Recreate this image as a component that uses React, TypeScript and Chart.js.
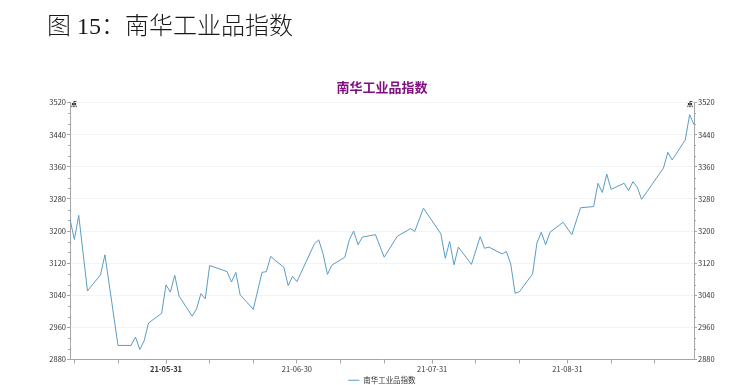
import React, { useEffect, useRef } from 'react';
import { Chart, registerables } from 'chart.js';

Chart.register(...registerables);

const PAGE_TITLE = '图 15：南华工业品指数';
const CHART_TITLE = '南华工业品指数';
const SERIES_NAME = '南华工业品指数';
const UNIT_MARK = '点';

const DATES = [
  '2021-05-09', '2021-05-10', '2021-05-11', '2021-05-13', '2021-05-16', '2021-05-17', '2021-05-20',
  '2021-05-23', '2021-05-24', '2021-05-25', '2021-05-26', '2021-05-27', '2021-05-30', '2021-05-31',
  '2021-06-01', '2021-06-02', '2021-06-03', '2021-06-06', '2021-06-07', '2021-06-08', '2021-06-09',
  '2021-06-10', '2021-06-14', '2021-06-15', '2021-06-16', '2021-06-17', '2021-06-20', '2021-06-22',
  '2021-06-23', '2021-06-24', '2021-06-25', '2021-06-27', '2021-06-28', '2021-06-29', '2021-06-30',
  '2021-07-04', '2021-07-05', '2021-07-06', '2021-07-07', '2021-07-08', '2021-07-11', '2021-07-12',
  '2021-07-13', '2021-07-14', '2021-07-15', '2021-07-18', '2021-07-20', '2021-07-23', '2021-07-26',
  '2021-07-27', '2021-07-29', '2021-08-02', '2021-08-03', '2021-08-04', '2021-08-05', '2021-08-06',
  '2021-08-09', '2021-08-11', '2021-08-12', '2021-08-13', '2021-08-16', '2021-08-17', '2021-08-18',
  '2021-08-19', '2021-08-20', '2021-08-23', '2021-08-24', '2021-08-25', '2021-08-26', '2021-08-27',
  '2021-08-30', '2021-09-01', '2021-09-03', '2021-09-06', '2021-09-07', '2021-09-08', '2021-09-09',
  '2021-09-10', '2021-09-13', '2021-09-14', '2021-09-15', '2021-09-16', '2021-09-17', '2021-09-22',
  '2021-09-23', '2021-09-24', '2021-09-27', '2021-09-28', '2021-09-29',
];

const VALUES = [
  3229, 3179, 3239, 3051, 3091, 3141, 2915,
  2915, 2936, 2905, 2927, 2971, 2995, 3066,
  3048, 3090, 3038, 2988, 3006, 3044, 3031,
  3114, 3099, 3073, 3097, 3041, 3005, 3097,
  3099, 3137, 3127, 3110, 3064, 3087, 3074,
  3168, 3178, 3143, 3092, 3115, 3135, 3178,
  3200, 3166, 3185, 3191, 3135, 3187, 3206,
  3199, 3257, 3193, 3132, 3174, 3116, 3160,
  3117, 3186, 3157, 3160, 3143, 3149, 3118,
  3045, 3049, 3093, 3170, 3197, 3166, 3197,
  3222, 3191, 3258, 3261, 3319, 3296, 3342,
  3304, 3319, 3301, 3323, 3309, 3279, 3357,
  3396, 3377, 3427, 3490, 3465,
];

const Y_TICKS = [2880, 2960, 3040, 3120, 3200, 3280, 3360, 3440, 3520];
const X_LABEL_DATES = ['2021-05-31', '2021-06-30', '2021-07-31', '2021-08-31'];
const X_TICK_DATES = [
  '2021-05-10', '2021-05-20', '2021-05-31', '2021-06-10', '2021-06-20', '2021-06-30',
  '2021-07-10', '2021-07-20', '2021-07-31', '2021-08-10', '2021-08-20', '2021-08-31',
  '2021-09-10', '2021-09-20',
];

const DAY = 86400000;
const toDay = (s: string) => {
  const [y, m, d] = s.split('-').map(Number);
  return Math.round(Date.UTC(y, m - 1, d) / DAY);
};
const fmtDay = (v: number) => {
  const dt = new Date(v * DAY);
  const yy = String(dt.getUTCFullYear()).slice(2);
  const mm = String(dt.getUTCMonth() + 1).padStart(2, '0');
  const dd = String(dt.getUTCDate()).padStart(2, '0');
  return `${yy}-${mm}-${dd}`;
};

const FONT = "'Noto Sans CJK SC', 'Noto Sans', sans-serif";
const LINE_COLOR = '#5b9cc4';
const AXIS_COLOR = '#a6a6a6';

export default function App() {
  const ref = useRef<HTMLCanvasElement | null>(null);

  useEffect(() => {
    document.body.style.margin = '0';
    const canvas = ref.current;
    if (!canvas) return;
    const days = DATES.map(toDay);
    const labelDays = new Set(X_LABEL_DATES.map(toDay));
    const tickDays = X_TICK_DATES.map(toDay);
    const firstLabel = toDay(X_LABEL_DATES[0]);
    const yMin = Y_TICKS[0];
    const yMax = Y_TICKS[Y_TICKS.length - 1];
    const yStep = Y_TICKS[1] - Y_TICKS[0];

    const extras = {
      id: 'extras',
      afterDraw(chart: any) {
        const { ctx } = chart;
        const yl = chart.scales.y;
        const yr = chart.scales.y2;
        ctx.save();
        ctx.strokeStyle = AXIS_COLOR;
        ctx.lineWidth = 1;
        for (let i = 0; i < Y_TICKS.length - 1; i++) {
          for (let k = 1; k < 3; k++) {
            const v = Y_TICKS[i] + (yStep * k) / 3;
            const py = Math.round(yl.getPixelForValue(v)) + 0.5;
            ctx.beginPath();
            ctx.moveTo(yl.right - 2, py);
            ctx.lineTo(yl.right, py);
            ctx.moveTo(yr.left, py);
            ctx.lineTo(yr.left + 2, py);
            ctx.stroke();
          }
        }
        ctx.fillStyle = '#222';
        ctx.font = `bold 6px ${FONT}`;
        ctx.textBaseline = 'middle';
        ctx.textAlign = 'left';
        const ty = chart.chartArea.top + 1;
        ctx.fillText(UNIT_MARK, chart.chartArea.left + 1, ty);
        ctx.textAlign = 'right';
        ctx.fillText(UNIT_MARK, chart.chartArea.right - 1, ty);
        ctx.restore();
      },
    };

    const yTickCb = (v: any) => String(v);

    const chart = new Chart(canvas, {
      type: 'line',
      data: {
        datasets: [
          {
            label: SERIES_NAME,
            data: days.map((d, i) => ({ x: d, y: VALUES[i] })),
            borderColor: LINE_COLOR,
            backgroundColor: LINE_COLOR,
            borderWidth: 1,
            pointRadius: 0,
            tension: 0,
            yAxisID: 'y',
          },
        ],
      },
      options: {
        animation: false,
        responsive: false,
        maintainAspectRatio: false,
        layout: { padding: { left: 0, right: 0, top: 0, bottom: -9 } },
        plugins: {
          title: {
            display: true,
            fullSize: false,
            text: CHART_TITLE,
            color: '#820f80',
            font: { size: 13, weight: 'bold', family: FONT },
            padding: { top: 79, bottom: 8 },
          },
          legend: {
            display: true,
            fullSize: false,
            position: 'bottom',
            labels: {
              usePointStyle: true,
              pointStyle: 'line',
              pointStyleWidth: 11,
              boxHeight: 7,
              color: '#333',
              font: { size: 7.5, family: FONT },
              padding: 2,
            },
          },
          tooltip: { enabled: false },
        },
        scales: {
          x: {
            type: 'linear',
            min: days[0],
            max: days[days.length - 1],
            afterBuildTicks: (axis: any) => {
              axis.ticks = tickDays.map((v) => ({ value: v }));
            },
            afterFit: (s: any) => {
              s.height = 15;
            },
            grid: {
              drawOnChartArea: false,
              drawTicks: true,
              tickLength: 4,
              tickColor: AXIS_COLOR,
            },
            border: { display: true, color: AXIS_COLOR },
            ticks: {
              autoSkip: false,
              maxRotation: 0,
              padding: 1,
              color: '#333',
              font: (c: any) =>
                c.tick && c.tick.value === firstLabel
                  ? { size: 7.5, family: FONT, weight: 'bold' }
                  : { size: 7.5, family: FONT },
              callback: (v: any) => (labelDays.has(Number(v)) ? fmtDay(Number(v)) : ''),
            },
          },
          y: {
            position: 'left',
            min: yMin,
            max: yMax,
            afterFit: (s: any) => {
              s.width = 70;
            },
            grid: {
              color: '#f3f3f3',
              drawTicks: true,
              tickLength: 3,
              tickColor: AXIS_COLOR,
            },
            border: { display: true, color: AXIS_COLOR },
            ticks: {
              stepSize: yStep,
              padding: 1,
              color: '#333',
              font: { size: 7.5, family: FONT },
              callback: yTickCb,
            },
          },
          y2: {
            position: 'right',
            min: yMin,
            max: yMax,
            afterFit: (s: any) => {
              s.width = 41;
            },
            grid: {
              drawOnChartArea: false,
              drawTicks: true,
              tickLength: 3,
              tickColor: AXIS_COLOR,
            },
            border: { display: true, color: AXIS_COLOR },
            ticks: {
              stepSize: yStep,
              padding: 1,
              color: '#333',
              font: { size: 7.5, family: FONT },
              callback: yTickCb,
            },
          },
        },
      },
      plugins: [extras],
    } as any);

    return () => chart.destroy();
  }, []);

  return (
    <div style={{ position: 'relative', width: 735, height: 385, background: '#fff' }}>
      <canvas ref={ref} width={735} height={385} style={{ position: 'absolute', left: 0, top: 0, width: 735, height: 385 }} />
      <div
        style={{
          position: 'absolute',
          left: 47,
          top: 14,
          fontSize: 24,
          lineHeight: '24px',
          fontWeight: 300,
          fontFamily: "'Liberation Serif', 'Noto Sans CJK SC', serif",
          color: '#1a1a1a',
          whiteSpace: 'nowrap',
        }}
      >
        {PAGE_TITLE}
      </div>
    </div>
  );
}
